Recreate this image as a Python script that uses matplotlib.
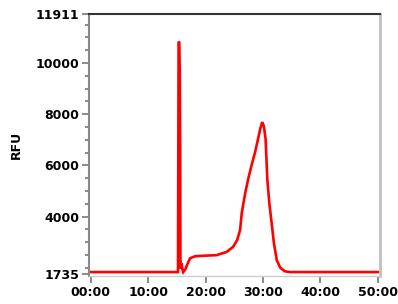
import numpy as np
import matplotlib.pyplot as plt
from matplotlib.ticker import FixedLocator, FuncFormatter

# electropherogram trace, time in minutes
time = [0.0, 15.0, 15.2, 15.3, 15.42, 15.5, 15.56, 15.62, 15.7, 15.78, 15.95, 16.12,
        16.5, 16.85, 17.3, 18.2, 19.9, 21.9, 23.7, 24.8, 25.5, 26.0, 26.3, 26.9,
        27.4, 28.0, 28.6, 29.1, 29.5, 29.85, 30.15, 30.45, 30.75, 31.1, 31.5,
        31.9, 32.4, 33.0, 33.8, 34.7, 50.0]
rfu = [1830, 1830, 1830, 10830, 10800, 9660, 7200, 2300, 1950, 2170, 1950, 1830,
       1950, 2150, 2370, 2450, 2470, 2490, 2620, 2820, 3080, 3470, 4140, 4920,
       5450, 6000, 6500, 7000, 7410, 7690, 7530, 7010, 5430, 4510, 3740,
       2950, 2290, 2000, 1860, 1830, 1830]

y_ticks = [1735, 4000, 6000, 8000, 10000, 11911]
x_ticks = [0, 10, 20, 30, 40, 50]

fig = plt.figure(figsize=(3.98, 3.04), dpi=100)
ax = fig.add_axes([0.2236, 0.092, 0.731, 0.862])
ax.plot(time, rfu, color='#ff0000', linewidth=1.9, solid_joinstyle='miter')

ax.set_xlim(-0.3, 50.35)
ax.set_ylim(1675, 11911)

ax.yaxis.set_major_locator(FixedLocator(y_ticks))
ax.yaxis.set_minor_locator(FixedLocator([v for v in np.arange(2000, 11911, 500) if v not in y_ticks]))
ax.xaxis.set_major_locator(FixedLocator(x_ticks))
ax.xaxis.set_major_formatter(FuncFormatter(lambda v, p: f"{int(v):02d}:00"))

ax.tick_params(axis='both', which='major', labelsize=9, color='#777777', width=1.2, length=5, pad=2)
ax.tick_params(axis='y', which='minor', color='#777777', width=1.2, length=3)
for lab in ax.get_xticklabels() + ax.get_yticklabels():
    lab.set_fontweight('bold')

ax.set_ylabel('RFU', fontsize=9, fontweight='bold', labelpad=9)

ax.spines['top'].set_color('#333333')
ax.spines['top'].set_linewidth(1.5)
ax.spines['right'].set_color('#c0c0c0')
ax.spines['right'].set_linewidth(2)
ax.spines['left'].set_color('#888888')
ax.spines['left'].set_linewidth(1.5)
ax.spines['bottom'].set_color('#cccccc')
ax.spines['bottom'].set_linewidth(1)

fig.savefig('out.png', dpi=100)
